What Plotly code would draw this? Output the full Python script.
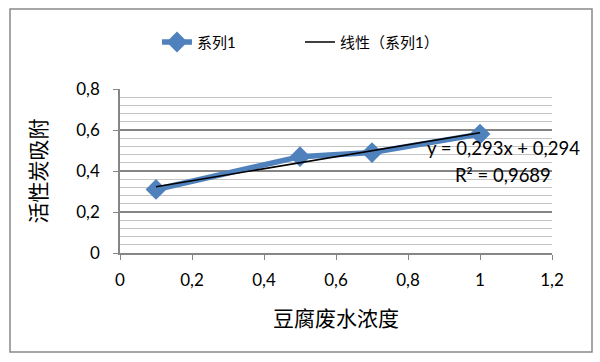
import numpy as np
import plotly.graph_objects as go

# data
x_vals = [0.1, 0.5, 0.7, 1.0]
y_vals = [0.31, 0.47, 0.49, 0.58]
series_name = "系列1"
trend_name = "线性（系列1）"
x_title = "豆腐废水浓度"
y_title = "活性炭吸附"
eq_text = "y = 0,293x + 0,294"
r2_text = "R² = 0,9689"

slope, intercept = np.polyfit(x_vals, y_vals, 1)
trend_x = [min(x_vals), max(x_vals)]
trend_y = [slope * v + intercept for v in trend_x]

FONT = "Lato, 'Noto Sans CJK SC', sans-serif"

fig = go.Figure()
fig.add_trace(go.Scatter(
    x=x_vals, y=y_vals, mode="lines+markers", name=series_name,
    line=dict(color="#4F81BD", width=5.5),
    marker=dict(symbol="diamond", size=16, color="#4F81BD"),
))
fig.add_trace(go.Scatter(
    x=trend_x, y=trend_y, mode="lines", name=trend_name,
    line=dict(color="black", width=1.5),
))

fig.update_layout(
    width=600, height=362,
    margin=dict(l=120, r=48, t=89, b=109),
    paper_bgcolor="white", plot_bgcolor="white",
    separators=", ",
    font=dict(family=FONT, color="black", size=15),
    showlegend=True,
    legend=dict(orientation="h", x=0.0856, xanchor="left", y=1.285, yanchor="middle",
                font=dict(size=15), entrywidth=98, entrywidthmode="pixels",
                bgcolor="rgba(0,0,0,0)"),
    xaxis=dict(range=[0, 1.2], dtick=0.2, tick0=0, showgrid=False, zeroline=False,
               showline=True, linecolor="#868686", linewidth=1.5,
               ticks="outside", ticklen=5, tickcolor="#868686",
               tickfont=dict(size=17), ticklabelstandoff=6,
               title=dict(text=x_title, font=dict(size=21), standoff=22)),
    yaxis=dict(range=[0, 0.8], dtick=0.2, tick0=0, showgrid=True, gridcolor="#858585",
               gridwidth=1.5, zeroline=False,
               showline=True, linecolor="#868686", linewidth=1.5,
               ticks="outside", ticklen=5, tickcolor="#868686",
               tickfont=dict(size=17), ticklabelstandoff=10,
               minor=dict(dtick=0.04, showgrid=True, gridcolor="#C4C4C4", gridwidth=1),
               title=dict(text=y_title, font=dict(size=21), standoff=24)),
    shapes=[dict(type="rect", xref="paper", yref="paper",
                 x0=-0.2546, x1=1.0926, y0=-0.6037, y1=1.4878,
                 line=dict(color="#898989", width=1.5), fillcolor="rgba(0,0,0,0)",
                 layer="below")],
    annotations=[
        dict(xref="paper", yref="paper", x=0.887, y=0.640, xanchor="center", yanchor="middle",
             text=eq_text, showarrow=False, font=dict(size=18.5)),
        dict(xref="paper", yref="paper", x=0.887, y=0.475, xanchor="center", yanchor="middle",
             text=r2_text, showarrow=False, font=dict(size=18.5)),
    ],
)

fig.write_html("out.html", config={"displayModeBar": False},
               post_script="document.body.style.margin='0';")
